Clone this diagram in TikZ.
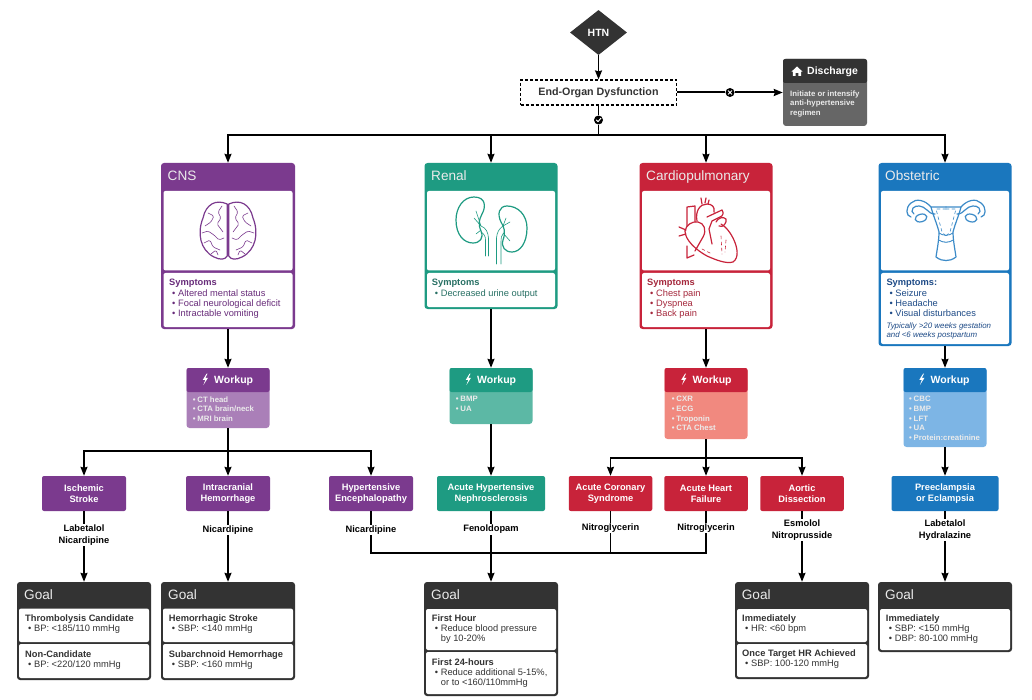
\documentclass[tikz,border=0pt]{standalone}
\usepackage{fontspec}
\setmainfont{Liberation Sans}
\usetikzlibrary{shapes.geometric,arrows.meta}

\definecolor{cnscol}{RGB}{123,58,142}
\definecolor{cnstxt}{RGB}{104,44,122}
\definecolor{cnslight}{RGB}{170,127,184}
\definecolor{rencol}{RGB}{30,155,130}
\definecolor{rentxt}{RGB}{40,112,100}
\definecolor{renlight}{RGB}{92,184,165}
\definecolor{carcol}{RGB}{200,35,58}
\definecolor{cartxt}{RGB}{165,40,60}
\definecolor{carlight}{RGB}{241,137,127}
\definecolor{obscol}{RGB}{26,119,190}
\definecolor{obstxt}{RGB}{30,75,135}
\definecolor{obslight}{RGB}{125,181,229}
\definecolor{goalcol}{RGB}{51,51,51}

\newcommand{\itm}{\hspace*{3pt}\textbullet\hspace{2.7pt}}
\newcommand{\wit}{\textbullet\hspace{1.8pt}}

\tikzset{
    arrow/.style={-{Stealth[length=9pt,width=7pt,inset=1pt]}, line width=1.5pt},
    link/.style={line width=1.5pt},
    card/.style={rounded corners=3pt, inner sep=0pt},
    pane/.style={fill=white, rounded corners=2pt, inner sep=0pt},
    headbox/.style={rounded corners=2pt, inner sep=0pt, minimum height=24},
    lvlbox/.style={rounded corners=2pt, inner sep=0pt, minimum height=35, text=white, align=center,
        font=\fontsize{9.3}{11}\selectfont\bfseries},
    bigtitle/.style={anchor=base west, inner sep=0pt, text=white!92!black, font=\fontsize{13.6}{16}\selectfont},
    headtitle/.style={anchor=base west, inner sep=0pt, text=white, font=\fontsize{10.5}{12}\selectfont\bfseries},
    bodytext/.style={anchor=north west, inner sep=0pt, align=left, font=\fontsize{9.3}{10.2}\selectfont},
    whitetext/.style={anchor=north west, inner sep=0pt, align=left, text=white!92!black,
        font=\fontsize{7.8}{9.6}\selectfont\bfseries},
    drug/.style={fill=white, inner sep=1pt, align=center, font=\fontsize{9.3}{11.5}\selectfont\bfseries},
    markdot/.style={circle, fill=black, minimum size=9, inner sep=0pt},
    icon/.style={line width=1.2pt, line cap=round, line join=round},
    thinicon/.style={line width=0.6pt, line cap=round, line join=round},
    pics/bolt/.style={code={
        \fill[white] (1.7,-5.5) -- (-2.2,0.8) -- (0.3,0.8) -- (-1.6,6) -- (3,-1.2) -- (0.4,-1.2) -- (2.5,-5.5) -- cycle;
    }}
}

\begin{document}
\begin{tikzpicture}[x=1pt,y=-1pt]
    \useasboundingbox (0,0) rectangle (1032,700);

    % top of the chart
    \node[diamond, fill=goalcol, aspect=1.24, minimum width=57, minimum height=45, inner sep=0pt,
        text=white, font=\fontsize{10.5}{12}\selectfont\bfseries] (htn) at (598.5,32.5) {HTN};
    \node[draw=black, dash pattern=on 3pt off 2pt, line width=1.2pt, minimum width=156, minimum height=25, inner sep=0pt,
        text=goalcol, font=\fontsize{10.7}{12}\selectfont\bfseries] (organ) at (598.5,92.5) {End-Organ Dysfunction};
    \node[markdot] (nogo) at (730,92.5) {};
    \node[markdot] (go) at (598.5,120) {};
    \coordinate (trunk) at (598.5,135);

    \node[card, fill=black!60, minimum width=84, minimum height=67] (discharge) at (825,92.5) {};
    \node[headbox, fill=goalcol, minimum width=84] (dischead) at (825,71) {};
    \fill[white] (797,66.5) -- (802.6,71.7) -- (801.2,71.7) -- (801.2,76) -- (798.4,76) -- (798.4,73)
        -- (795.6,73) -- (795.6,76) -- (792.8,76) -- (792.8,71.7) -- (791.4,71.7) -- cycle;
    \node[headtitle] (disctitle) at (807,75) {Discharge};
    \node[whitetext] (disctext) at (790,90.2) {Initiate or intensify\\anti-hypertensive\\regimen};

    % system cards
    \node[card, fill=cnscol, minimum width=134, minimum height=166] (cns) at (228,246) {};
    \node[pane, minimum width=129, minimum height=79.5] (cnsimg) at (228,230.7) {};
    \node[pane, minimum width=129, minimum height=54] (cnssym) at (228,300) {};
    \node[bigtitle] (cnstitle) at (167.5,181) {CNS};
    \node[bodytext, text=cnstxt] (cnstext) at (169,279.3) {\textbf{Symptoms}\\\itm Altered mental status\\\itm Focal neurological deficit\\\itm Intractable vomiting};

    \node[card, fill=rencol, minimum width=133, minimum height=146] (renal) at (491,236) {};
    \node[pane, minimum width=128, minimum height=79.5] (renimg) at (491,230.7) {};
    \node[pane, minimum width=128, minimum height=34] (rensym) at (491,290) {};
    \node[bigtitle] (rentitle) at (431,181) {Renal};
    \node[bodytext, text=rentxt] (rentext) at (431.7,279.3) {\textbf{Symptoms}\\\itm Decreased urine output};

    \node[card, fill=carcol, minimum width=133, minimum height=166] (cardio) at (706,246) {};
    \node[pane, minimum width=128, minimum height=79.5] (carimg) at (706,230.7) {};
    \node[pane, minimum width=128, minimum height=54] (carsym) at (706,300) {};
    \node[bigtitle] (cartitle) at (646,181) {Cardiopulmonary};
    \node[bodytext, text=cartxt] (cartext) at (647,279.3) {\textbf{Symptoms}\\\itm Chest pain\\\itm Dyspnea\\\itm Back pain};

    \node[card, fill=obscol, minimum width=133, minimum height=183] (obst) at (945,254.5) {};
    \node[pane, minimum width=128, minimum height=79.5] (obsimg) at (945,230.7) {};
    \node[pane, minimum width=128, minimum height=71] (obssym) at (945,308.5) {};
    \node[bigtitle] (obstitle) at (885,181) {Obstetric};
    \node[bodytext, text=obstxt] (obstext) at (886.3,279.3) {\textbf{Symptoms:}\\\itm Seizure\\\itm Headache\\\itm Visual disturbances};
    \node[bodytext, text=obstxt, font=\fontsize{7.9}{9}\selectfont\itshape] (obsnote) at (886.3,322.8) {Typically >20 weeks gestation\\and <6 weeks postpartum};

    % brain
    \foreach \flip in {1,-1} {
        \begin{scope}[shift={(228,0)}, xscale=\flip]
            \draw[icon, draw=cnscol] (-0.8,204) .. controls (-12,199) and (-22,204) .. (-25,218)
                .. controls (-31,233) and (-28,250) .. (-14,257) .. controls (-8,260) and (-3,260) .. (-0.8,256) -- cycle;
            \draw[thinicon, draw=cnscol, rounded corners=1.5pt] (-6,206) -- (-10,212) -- (-7,218) -- (-11,224) -- (-5,232);
            \draw[thinicon, draw=cnscol, rounded corners=1.5pt] (-20,213) -- (-14,216) -- (-17,222) -- (-23,226);
            \draw[thinicon, draw=cnscol, rounded corners=1.5pt] (-26,233) -- (-20,231) -- (-14,235) -- (-9,240) -- (-4,238);
            \draw[thinicon, draw=cnscol, rounded corners=1.5pt] (-24,243) -- (-18,240) -- (-15,247) -- (-8,250);
            \draw[thinicon, draw=cnscol, rounded corners=1.5pt] (-17,254) -- (-12,250) -- (-10,255);
        \end{scope}
    }

    % kidneys
    \draw[icon, draw=rencol] (474,197) .. controls (463,197) and (456,208) .. (456,220)
        .. controls (456,235) and (464,243) .. (473,243) .. controls (480,243) and (484,238) .. (481,231)
        .. controls (478,224) and (479,220) .. (482,214) .. controls (486,207) and (486,197) .. (474,197) -- cycle;
    \draw[icon, draw=rencol] (507,206) .. controls (518,206) and (527,215) .. (527,228)
        .. controls (527,243) and (520,252) .. (512,252) .. controls (505,252) and (501,247) .. (503,240)
        .. controls (506,232) and (504,227) .. (501,222) .. controls (497,214) and (499,206) .. (507,206) -- cycle;
    \draw[thinicon, draw=rencol] (481,226) .. controls (486,228) and (488,232) .. (488.5,238) -- (488.5,256);
    \draw[thinicon, draw=rencol] (481,232) .. controls (484,234) and (485.5,236) .. (485.5,240) -- (485.5,256);
    \draw[thinicon, draw=rencol] (503,226) .. controls (499,229) and (497,232) .. (496.5,238) -- (496.5,264);
    \draw[thinicon, draw=rencol] (503.5,233) .. controls (501.5,235) and (501,238) .. (501,242) -- (501,264);
    \draw[thinicon, draw=rencol] (481,226) -- (476,211) (481,226) -- (474,218) (481,230) -- (476,234);
    \draw[thinicon, draw=rencol] (503,226) -- (506,218) (503,226) -- (510,222) (503,233) -- (510,241);

    % heart
    \draw[icon, draw=carcol] (687,207) -- (695,206) -- (695,222) (687,207) -- (687,226)
        (687,246) -- (687,258) -- (694,255);
    \draw[icon, draw=carcol] (685,231) .. controls (686,225) and (692,221) .. (698,222)
        .. controls (704,223) and (707,230) .. (703,237) -- (695,251);
    \draw[icon, draw=carcol] (685,231) .. controls (685,240) and (696,250) .. (707,256)
        .. controls (716,260) and (726,264) .. (733,262) .. controls (739,258) and (738,248) .. (733,238)
        .. controls (730,232) and (726,227) .. (721,224);
    \draw[icon, draw=carcol] (697,221) .. controls (695,211) and (700,204) .. (707,204)
        .. controls (712,204) and (715,207) .. (714,212) (707,217) -- (722,210)
        .. controls (724,213) and (723,216) .. (720,217) -- (712,221) -- (709,229) -- (712,244);
    \draw[icon, draw=carcol] (716,222) .. controls (718,218) and (723,216) .. (726,219)
        .. controls (727,223) and (723,228) .. (719,226);
    \draw[icon, draw=carcol] (702,204) -- (701,198) (705,203) -- (706,198) (708,204) -- (709,200);
    \draw[icon, draw=carcol] (686,230) -- (679,227) (686,234) -- (679,236);
    \draw[thinicon, draw=carcol, dashed] (702,249) -- (712,254) (721,236) -- (722,254) (726,240) -- (725,252);

    % uterus
    \foreach \flip in {1,-1} {
        \begin{scope}[shift={(946,0)}, xscale=\flip]
            \draw[icon, draw=obscol!85!white] (0,207) -- (15,207) .. controls (13,215) and (9,224) .. (7,232)
                .. controls (7,240) and (9,250) .. (10,257) .. controls (6,260) and (3,260.5) .. (0,260.5);
            \draw[icon, draw=obscol!85!white] (15,207) .. controls (21,200) and (30,198) .. (35,203)
                .. controls (41,208) and (40,216) .. (35,217);
            \draw[icon, draw=obscol!85!white] (11,214) .. controls (15,214) and (17,212) .. (19,210)
                .. controls (24,205) and (30,205) .. (33,208) .. controls (35,210) and (34,213) .. (32,214);
            \draw[icon, draw=obscol!85!white, rotate around={-15:(25,218)}] (25,218) ellipse [x radius=6, y radius=3.8];
            \draw[thinicon, draw=obscol!85!white, dashed] (0,209) -- (10,209) -- (4,232) -- (0,236);
            \draw[thinicon, draw=obscol!85!white] (-7,233) .. controls (-3,236) and (3,236) .. (7,233)
                (-7,240) .. controls (-3,243) and (3,243) .. (7.5,240);
        \end{scope}
    }

    % workups
    \node[card, fill=cnslight, minimum width=83, minimum height=60] (cnswork) at (228,398) {};
    \node[headbox, fill=cnscol, minimum width=83] (cnshead) at (228,380) {};
    \pic at (205,379) {bolt};
    \node[headtitle] (cnswt) at (214,383) {Workup};
    \node[whitetext] (cnslist) at (192.7,396.2) {\wit CT head\\\wit CTA brain/neck\\\wit MRI brain};

    \node[card, fill=renlight, minimum width=83, minimum height=56] (renwork) at (491,396) {};
    \node[headbox, fill=rencol, minimum width=83] (renhead) at (491,380) {};
    \pic at (468,379) {bolt};
    \node[headtitle] (renwt) at (477,383) {Workup};
    \node[whitetext] (renlist) at (455.7,396.2) {\wit BMP\\\wit UA};

    \node[card, fill=carlight, minimum width=83, minimum height=71] (carwork) at (706,403.5) {};
    \node[headbox, fill=carcol, minimum width=83] (carhead) at (706,380) {};
    \pic at (683.5,379) {bolt};
    \node[headtitle] (carwt) at (692.5,383) {Workup};
    \node[whitetext] (carlist) at (671.7,396.2) {\wit CXR\\\wit ECG\\\wit Troponin\\\wit CTA Chest};

    \node[card, fill=obslight, minimum width=83, minimum height=79] (obswork) at (945,407.5) {};
    \node[headbox, fill=obscol, minimum width=83] (obshead) at (945,380) {};
    \pic at (921.5,379) {bolt};
    \node[headtitle] (obswt) at (930.5,383) {Workup};
    \node[whitetext] (obslist) at (909,396.2) {\wit CBC\\\wit BMP\\\wit LFT\\\wit UA\\\wit Protein:creatinine};

    % diagnoses
    \node[lvlbox, fill=cnscol, minimum width=84] (ischemic) at (84,493.5) {Ischemic\\Stroke};
    \node[lvlbox, fill=cnscol, minimum width=84] (bleed) at (228,493.5) {Intracranial\\Hemorrhage};
    \node[lvlbox, fill=cnscol, minimum width=84] (enceph) at (371,493.5) {Hypertensive\\Encephalopathy};
    \node[lvlbox, fill=rencol, minimum width=108] (nephro) at (491,493.5) {Acute Hypertensive\\Nephrosclerosis};
    \node[lvlbox, fill=carcol, minimum width=83.5] (acs) at (610.5,493.5) {Acute Coronary\\Syndrome};
    \node[lvlbox, fill=carcol, minimum width=83.5] (failure) at (706,493.5) {Acute Heart\\Failure};
    \node[lvlbox, fill=carcol, minimum width=83.5] (dissect) at (802,493.5) {Aortic\\Dissection};
    \node[lvlbox, fill=obscol, minimum width=107] (eclamp) at (945,493.5) {Preeclampsia\\or Eclampsia};

    % goals
    \node[card, fill=goalcol, minimum width=134, minimum height=98] (goalone) at (84,631) {};
    \node[pane, minimum width=130, minimum height=33.5] (goalonea) at (84,625.3) {};
    \node[pane, minimum width=130, minimum height=34] (goaloneb) at (84,661) {};
    \node[bigtitle] (goalonet) at (24,599.7) {Goal};
    \node[bodytext, text=goalcol] (goalonex) at (25,614.3) {\textbf{Thrombolysis Candidate}\\\itm BP: <185/110 mmHg};
    \node[bodytext, text=goalcol] (goaloney) at (25,650.2) {\textbf{Non-Candidate}\\\itm BP: <220/120 mmHg};

    \node[card, fill=goalcol, minimum width=134, minimum height=98] (goaltwo) at (228,631) {};
    \node[pane, minimum width=130, minimum height=33.5] (goaltwoa) at (228,625.3) {};
    \node[pane, minimum width=130, minimum height=34] (goaltwob) at (228,661) {};
    \node[bigtitle] (goaltwot) at (168,599.7) {Goal};
    \node[bodytext, text=goalcol] (goaltwox) at (168.7,614.3) {\textbf{Hemorrhagic Stroke}\\\itm SBP: <140 mmHg};
    \node[bodytext, text=goalcol] (goaltwoy) at (168.7,650.2) {\textbf{Subarchnoid Hemorrhage}\\\itm SBP: <160 mmHg};

    \node[card, fill=goalcol, minimum width=134, minimum height=114] (goalmid) at (491,639) {};
    \node[pane, minimum width=130, minimum height=41] (goalmida) at (491,629.5) {};
    \node[pane, minimum width=130, minimum height=42] (goalmidb) at (491,673) {};
    \node[bigtitle] (goalmidt) at (431,599.7) {Goal};
    \node[bodytext, text=goalcol] (goalmidx) at (431.7,614.3) {\textbf{First Hour}\\\itm Reduce blood pressure\\\hspace*{9pt}by 10-20\%};
    \node[bodytext, text=goalcol] (goalmidy) at (431.7,658.6) {\textbf{First 24-hours}\\\itm Reduce additional 5-15\%,\\\hspace*{9pt}or to <160/110mmHg};

    \node[card, fill=goalcol, minimum width=134, minimum height=97] (goalao) at (802,630.5) {};
    \node[pane, minimum width=130, minimum height=33] (goalaoa) at (802,625.5) {};
    \node[pane, minimum width=130, minimum height=33] (goalaob) at (802,660.5) {};
    \node[bigtitle] (goalaot) at (741.7,599.7) {Goal};
    \node[bodytext, text=goalcol] (goalaox) at (742,614.3) {\textbf{Immediately}\\\itm HR: <60 bpm};
    \node[bodytext, text=goalcol] (goalaoy) at (742,649.7) {\textbf{Once Target HR Achieved}\\\itm SBP: 100-120 mmHg};

    \node[card, fill=goalcol, minimum width=134, minimum height=70] (goalob) at (945,617) {};
    \node[pane, minimum width=130, minimum height=41] (goalobp) at (945,629.5) {};
    \node[bigtitle] (goalobt) at (885,599.7) {Goal};
    \node[bodytext, text=goalcol] (goalobx) at (885.7,614.6) {\textbf{Immediately}\\\itm SBP: <150 mmHg\\\itm DBP: 80-100 mmHg};

    % connectors
    \draw[arrow] (htn.south) -- (organ.north);
    \draw[link, line width=2pt] (organ.east) -- (nogo);
    \draw[arrow, line width=2pt] (nogo) -- (discharge.west);
    \draw[link] (organ.south) -- (go);
    \draw[link] (go) -- (trunk);
    \draw[arrow] (trunk) -| (cns.north);
    \draw[arrow] (trunk) -| (renal.north);
    \draw[arrow] (trunk) -| (cardio.north);
    \draw[arrow] (trunk) -| (obst.north);
    \draw[white, line width=1pt, line cap=round] (nogo)+(-1.7,-1.7) -- +(1.7,1.7) (nogo)+(-1.7,1.7) -- +(1.7,-1.7);
    \draw[white, line width=1pt, line cap=round, line join=round] (go)+(-2.2,0) -- +(-0.5,1.7) -- +(2.4,-1.8);

    \draw[arrow] (cns.south) -- (cnswork.north);
    \draw[arrow] (renal.south) -- (renwork.north);
    \draw[arrow] (cardio.south) -- (carwork.north);
    \draw[arrow] (obst.south) -- (obswork.north);

    \coordinate (cnsbus) at (228,451);
    \coordinate (carbus) at (706,458);
    \draw[link] (cnswork.south) -- (cnsbus);
    \draw[arrow] (cnsbus) -| (ischemic.north);
    \draw[arrow] (cnsbus) -- (bleed.north);
    \draw[arrow] (cnsbus) -| (enceph.north);
    \draw[arrow] (renwork.south) -- (nephro.north);
    \draw[link] (carwork.south) -- (carbus);
    \draw[arrow] (carbus) -| (acs.north);
    \draw[arrow] (carbus) -- (failure.north);
    \draw[arrow] (carbus) -| (dissect.north);
    \draw[arrow] (obswork.south) -- (eclamp.north);

    \coordinate (merge) at (491,553);
    \draw[arrow] (ischemic.south) -- (goalone.north);
    \draw[arrow] (bleed.south) -- (goaltwo.north);
    \draw[link] (enceph.south) |- (merge);
    \draw[link] (failure.south) |- (merge);
    \draw[link] (acs.south) -- (acs.south |- merge);
    \draw[arrow] (nephro.south) -- (goalmid.north);
    \draw[arrow] (dissect.south) -- (goalao.north);
    \draw[arrow] (eclamp.south) -- (goalob.north);

    % drugs sit on top of the lines
    \node[drug] (drugone) at (84,535) {Labetalol\\Nicardipine};
    \node[drug] (drugtwo) at (228,530) {Nicardipine};
    \node[drug] (drugenc) at (371,530) {Nicardipine};
    \node[drug] (drugren) at (491,529.5) {Fenoldopam};
    \node[drug] (drugacs) at (610.5,528) {Nitroglycerin};
    \node[drug] (drughf) at (706,528) {Nitroglycerin};
    \node[drug] (drugao) at (802,530) {Esmolol\\Nitroprusside};
    \node[drug] (drugob) at (945,530) {Labetalol\\Hydralazine};
\end{tikzpicture}
\end{document}
